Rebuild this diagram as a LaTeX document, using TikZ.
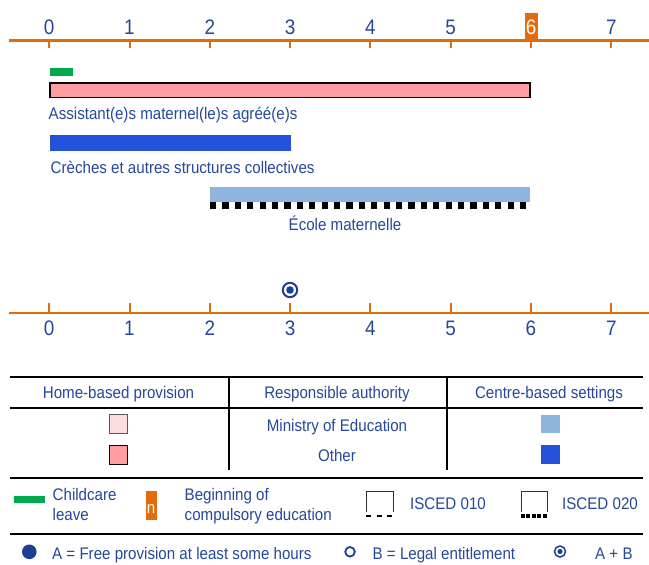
\documentclass[tikz,border=0pt]{standalone}
\usepackage{fontspec}
\setmainfont{Liberation Sans}[FakeStretch=0.9]
\definecolor{txtblue}{RGB}{38,72,155}
\definecolor{dotblue}{RGB}{29,63,148}
\definecolor{axorange}{RGB}{227,108,10}
\definecolor{leavegreen}{RGB}{0,168,79}
\definecolor{homepink}{RGB}{255,157,163}
\definecolor{lightpink}{RGB}{250,221,221}
\definecolor{centreblue}{RGB}{36,82,219}
\definecolor{lightblue}{RGB}{143,180,222}
\newcommand\lblfont{\fontsize{16.8}{19}\selectfont}
\newcommand\digfont{\fontsize{21}{24}\selectfont}
\begin{document}
\begin{tikzpicture}[x=1pt,y=-1pt,
  axisline/.style={draw=axorange,line width=2.3pt},
  tickmark/.style={draw=axorange,line width=2pt},
  digit/.style={anchor=base,inner sep=0pt,text=txtblue,font=\digfont},
  lbl/.style={inner sep=0pt,text=txtblue,font=\lblfont},
  rule/.style={draw=black,line width=2pt},
  bar/.style={draw=none}]
\useasboundingbox[fill=white] (0,0) rectangle (649,565);

% ---------- top axis
\draw[axisline] (9,40.5) -- (649,40.5);
\foreach \n in {0,...,7}{\draw[tickmark] ({49.2+80.3*\n},40.5) -- ++(0,7.2);}
\fill[axorange] (525,13.3) rectangle (538,40);
\foreach \n in {0,1,2,3,4,5,7}{\node[digit] (top\n) at ({49.2+80.3*\n},34.3) {\n};}
\node[digit,text=white] (top6) at (531.2,34.3) {6};

% ---------- bars
\fill[leavegreen] (50,68) rectangle (73,76);
\filldraw[fill=homepink,draw=black,line width=1.3pt] (50,83) rectangle (530,97.5);
\node[lbl,anchor=base west] (assist) at (48.5,119.3) {Assistant(e)s maternel(le)s agréé(e)s};
\fill[centreblue] (50,135) rectangle (290.5,150.7);
\node[lbl,anchor=base west] (creche) at (50.5,173.3) {Crèches et autres structures collectives};
\fill[lightblue] (210,186.7) rectangle (530,201.7);
\draw[black,line width=7pt,dash pattern=on 6.2pt off 6.2pt] (210,205.5) -- (526,205.5);
\node[lbl,anchor=base] (ecole) at (345,230) {École maternelle};

% ---------- target symbol and bottom axis
\draw[dotblue,line width=2pt] (290,290) circle[radius=7.2pt];
\fill[dotblue] (290,290) circle[radius=3.8pt];
\draw[axisline] (9,312.7) -- (649,312.7);
\foreach \n in {0,...,7}{\draw[tickmark] ({49.2+80.3*\n},303) -- (({49.2+80.3*\n},312.7);}
\foreach \n in {0,...,7}{\node[digit] (bot\n) at ({49.2+80.3*\n},335) {\n};}

% ---------- table
\draw[rule] (10,377) -- (643,377);
\draw[rule] (10,408) -- (643,408);
\draw[rule] (228.5,377) -- (228.5,470);
\draw[rule] (446.5,377) -- (446.5,470);
\node[lbl,anchor=base] (hhome) at (118.5,398.3) {Home-based provision};
\node[lbl,anchor=base] (hauth) at (337,398.3) {Responsible authority};
\node[lbl,anchor=base] (hcentre) at (549,398.3) {Centre-based settings};
\filldraw[fill=lightpink,draw=black!65,line width=1pt] (109,414) rectangle (127.5,433);
\node[lbl,anchor=base] (moe) at (337,431) {Ministry of Education};
\fill[lightblue] (540.5,415) rectangle (559.5,433);
\filldraw[fill=homepink,draw=black,line width=1pt] (109,445) rectangle (127.5,464);
\node[lbl,anchor=base] (other) at (337,461.5) {Other};
\fill[centreblue] (540.5,445) rectangle (559.5,464);

% ---------- legend
\draw[rule] (10,478) -- (643,478);
\fill[leavegreen] (14,496) rectangle (45,503);
\node[lbl,anchor=base west] (cc1) at (52.5,500) {Childcare};
\node[lbl,anchor=base west] (cc2) at (52.5,520) {leave};
\fill[axorange] (145.5,491) rectangle (157,520);
\node[lbl,anchor=base,text=white] (nbox) at (151.2,513) {n};
\node[lbl,anchor=base west] (beg1) at (184.5,500) {Beginning of};
\node[lbl,anchor=base west] (beg2) at (184.5,520) {compulsory education};
\draw[black!80,line width=0.9pt] (366.5,512) -- (366.5,491) -- (393,491) -- (393,512);
\draw[black,line width=2.6pt,dash pattern=on 5pt off 5.5pt] (366,516) -- (393.5,516);
\node[lbl,anchor=base west] (is010) at (410,509.3) {ISCED 010};
\draw[black!80,line width=0.9pt] (521,512) -- (521,491) -- (547.5,491) -- (547.5,512);
\draw[black,line width=3.5pt,dash pattern=on 4pt off 1.6pt] (520.5,516) -- (548,516);
\node[lbl,anchor=base west] (is020) at (562,509.3) {ISCED 020};
\draw[rule] (10,533.5) -- (643,533.5);
\fill[dotblue] (29.3,551.8) circle[radius=7.3pt];
\node[lbl,anchor=base west] (afree) at (52,559) {A = Free provision at least some hours};
\draw[dotblue,line width=1.8pt] (350,551.8) circle[radius=4.8pt];
\node[lbl,anchor=base west] (blegal) at (372.5,559) {B = Legal entitlement};
\draw[dotblue,line width=1.5pt] (560,551.5) circle[radius=5.5pt];
\fill[dotblue] (560,551.5) circle[radius=2.6pt];
\node[lbl,anchor=base west] (ab) at (595,559) {A + B};
\end{tikzpicture}
\end{document}
